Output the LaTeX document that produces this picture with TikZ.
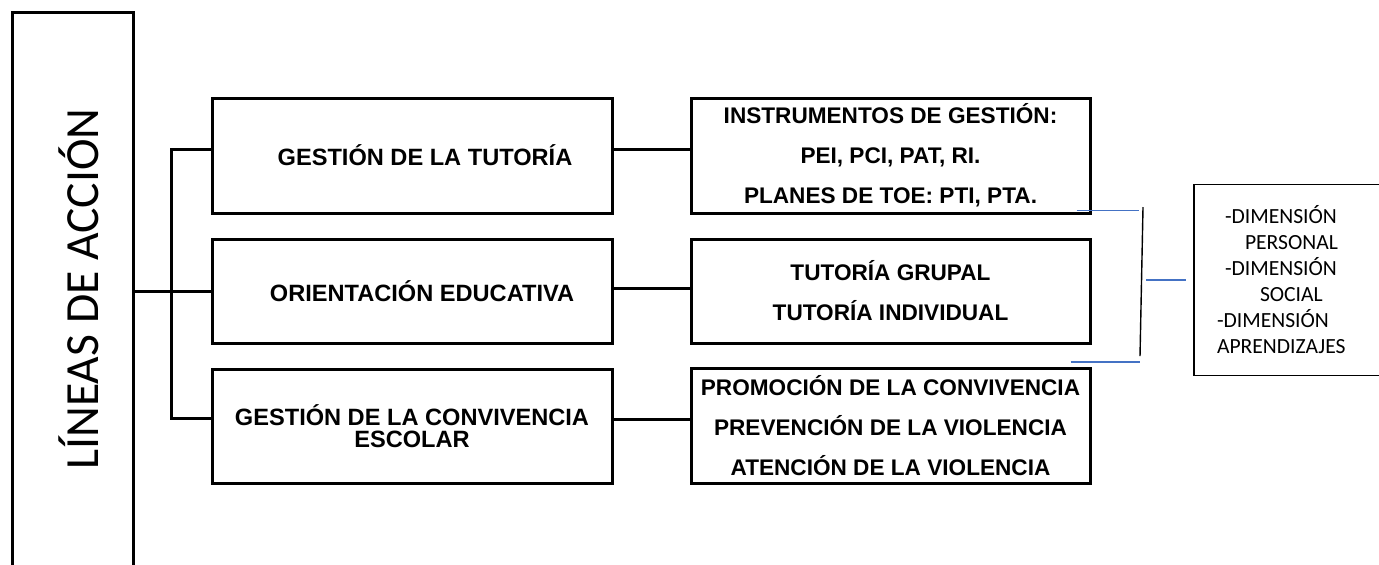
\documentclass[tikz,border=0pt]{standalone}
\usepackage{fontspec}
\setmainfont{Liberation Sans}
\newfontfamily\calibrifont{Carlito}
\usetikzlibrary{positioning}
\definecolor{linkblue}{RGB}{68,114,196}

\begin{document}
\begin{tikzpicture}[
        x=0.5pt, y=-0.5pt,
        node distance=11.5pt and 38pt,
        every path/.style={line width=1.5pt},
        linebox/.style={draw, line width=1.5pt, align=center, minimum width=200pt, inner sep=0pt, font=\bfseries\fontsize{11.8}{11}\selectfont},
        itembox/.style={draw, line width=1.5pt, align=center, minimum width=199.5pt, inner sep=0pt, font=\bfseries\fontsize{11.3}{20}\selectfont},
        dimbox/.style={draw, line width=0.6pt, align=left, text width=75pt, minimum width=98pt, minimum height=95.5pt, inner sep=0pt, font=\calibrifont\fontsize{10.8}{13}\selectfont},
        bluelink/.style={draw=linkblue, line width=0.75pt},
        thinlink/.style={line width=0.7pt}
    ]
    \useasboundingbox (0,0) rectangle (1379,564);

    % Nodes
    \node (lineas) [draw, line width=1.5pt, minimum width=60.5pt, minimum height=278pt] at (72.5,290) {};
    \node (lineastxt) [rotate=90, anchor=base, font=\calibrifont\fontsize{23.8}{28}\selectfont] at (98,289) {LÍNEAS DE ACCIÓN};

    \node (tutoria) [linebox, minimum height=57.5pt] at (412,155.5) {\hspace*{13pt}GESTIÓN DE LA TUTORÍA};
    \node (orienta) [linebox, minimum height=52pt, below=of tutoria] {\hspace*{10pt}ORIENTACIÓN EDUCATIVA};
    \node (convive) [linebox, minimum height=57pt, below=of orienta] {GESTIÓN DE LA CONVIVENCIA\\ESCOLAR};

    \node (instr) [itembox, minimum height=57.5pt, right=of tutoria] {INSTRUMENTOS DE GESTIÓN:\\
        PEI, PCI, PAT, RI.\\
        PLANES DE TOE: PTI, PTA.};
    \node (tutgr) [itembox, minimum height=52pt, right=of orienta] {TUTORÍA GRUPAL\\
        TUTORÍA INDIVIDUAL};
    \node (preven) [itembox, minimum height=57.5pt, right=of convive] {PROMOCIÓN DE LA CONVIVENCIA\\
        PREVENCIÓN DE LA VIOLENCIA\\
        ATENCIÓN DE LA VIOLENCIA};

    \node (dimen) [dimbox] at (1292,280) {\hspace*{4pt}-DIMENSIÓN\\
        \hspace*{14pt}PERSONAL\\
        \hspace*{4pt}-DIMENSIÓN\\
        \hspace*{21.5pt}SOCIAL\\
        -DIMENSIÓN\\
        APRENDIZAJES};

    \coordinate (bracetop) at (1143,207);
    \coordinate (bracebot) at (1140,356);

    % Edges
    \draw (lineas.east |- orienta.west) -- (orienta.west);
    \draw ([yshift=3pt]tutoria.west) -- ++(-19.5pt,0) |- ([yshift=4pt]convive.west);
    \draw ([yshift=3pt]tutoria.east) -- ([yshift=3pt]instr.west);
    \draw ([yshift=1.5pt]orienta.east) -- ([yshift=1.5pt]tutgr.west);
    \draw ([yshift=3.5pt]convive.east) -- ([yshift=3.5pt]preven.west);

    \draw[bluelink] ([xshift=-7.5pt,yshift=2pt]instr.south east) -- ++(31pt,0);
    \draw[bluelink] ([xshift=-10.5pt,yshift=2.5pt]preven.north east) -- ++(34.5pt,0);
    \draw[thinlink] (bracetop) -- (bracebot);
    \draw[bluelink] ([xshift=-23.5pt]dimen.west) -- ([xshift=-3.5pt]dimen.west);
\end{tikzpicture}
\end{document}
